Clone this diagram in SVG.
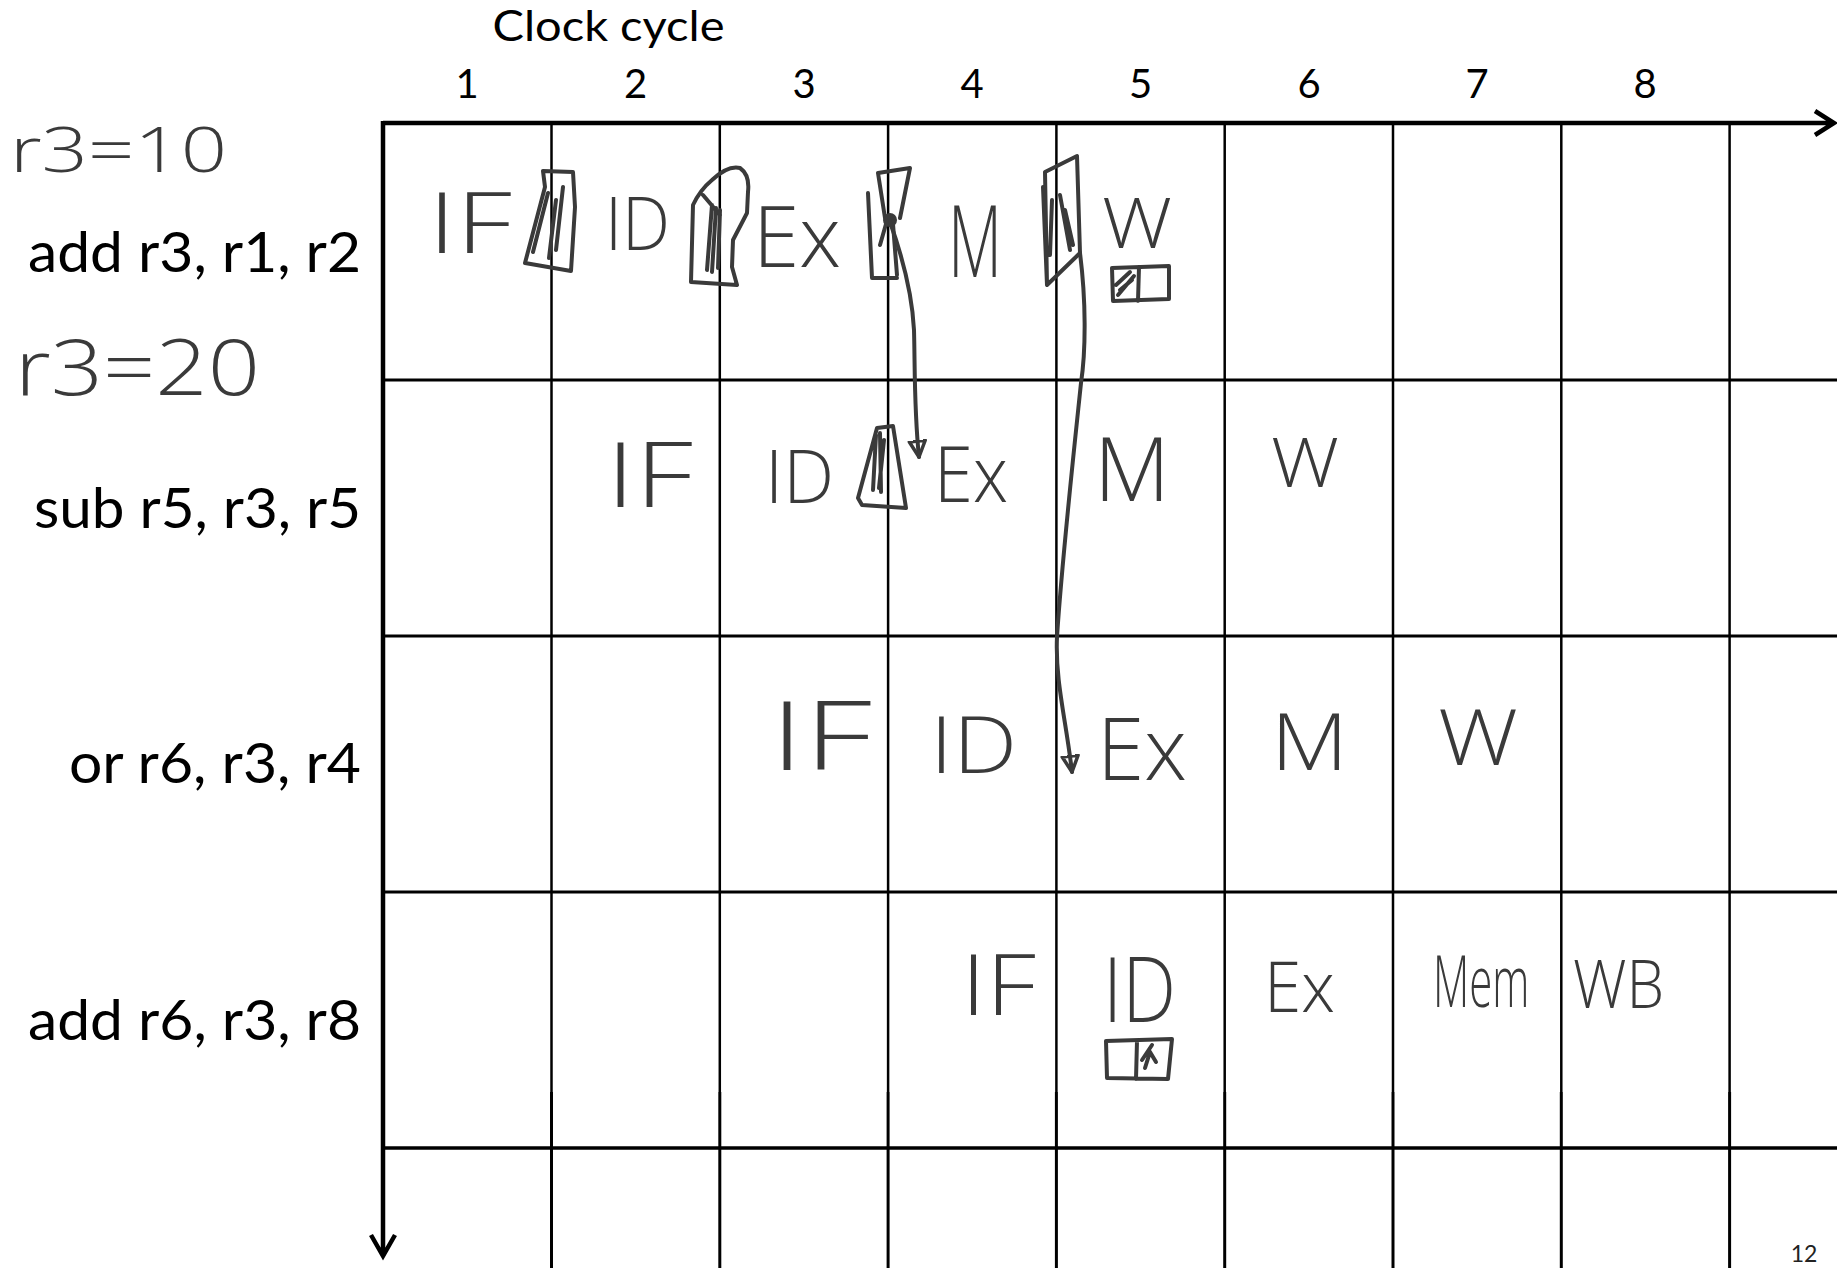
<svg xmlns="http://www.w3.org/2000/svg" width="1837" height="1268" viewBox="0 0 1837 1268">
<defs>
<style>
.print{font-family:Lato,"Liberation Sans",sans-serif;fill:#000}
.lbl{font-size:56px}
.num{font-size:40px;text-anchor:middle}
.hw{font-family:"Open Sans","Liberation Sans",sans-serif;font-weight:300;fill:#3a3a3a}
.ink{fill:none;stroke:#3a3a3a;stroke-width:4;stroke-linecap:round;stroke-linejoin:round}
.grid{stroke:#000;stroke-width:2.5}
.gridb{stroke:#000;stroke-width:3}
.axis{stroke:#000;stroke-width:4.5;fill:none}
</style>
<marker id="ah" markerUnits="userSpaceOnUse" viewBox="0 0 20 20" markerWidth="20" markerHeight="20" refX="17" refY="10" orient="auto">
<path d="M1,2 L17,10 L1,18 Z" fill="none" stroke="#3a3a3a" stroke-width="3.5" stroke-linejoin="round"/>
</marker>
</defs>
<rect x="0" y="0" width="1837" height="1268" fill="#fff"/>

<g id="grid">
<g class="grid">
<line x1="551.5" y1="123" x2="551.5" y2="1092"/>
<line x1="719.8" y1="123" x2="719.8" y2="1092"/>
<line x1="888.1" y1="123" x2="888.1" y2="1092"/>
<line x1="1056.4" y1="123" x2="1056.4" y2="1092"/>
<line x1="1224.7" y1="123" x2="1224.7" y2="1092"/>
<line x1="1393" y1="123" x2="1393" y2="1092"/>
<line x1="1561.3" y1="123" x2="1561.3" y2="1092"/>
<line x1="1729.6" y1="123" x2="1729.6" y2="1092"/>
</g>
<g class="gridb">
<line x1="551.5" y1="1092" x2="551.5" y2="1268"/>
<line x1="719.8" y1="1092" x2="719.8" y2="1268"/>
<line x1="888.1" y1="1092" x2="888.1" y2="1268"/>
<line x1="1056.4" y1="1092" x2="1056.4" y2="1268"/>
<line x1="1224.7" y1="1092" x2="1224.7" y2="1268"/>
<line x1="1393" y1="1092" x2="1393" y2="1268"/>
<line x1="1561.3" y1="1092" x2="1561.3" y2="1268"/>
<line x1="1729.6" y1="1092" x2="1729.6" y2="1268"/>
<line x1="383" y1="380" x2="1837" y2="380"/>
<line x1="383" y1="636" x2="1837" y2="636"/>
<line x1="383" y1="892" x2="1837" y2="892"/>
<line x1="383" y1="1148" x2="1837" y2="1148" stroke-width="3.5"/>
</g>
<path class="axis" d="M383,123 H1833 M1815,111 L1834,123 L1815,135"/>
<path class="axis" d="M383,121 V1255 M371,1235 L383,1256 L395,1235"/>
</g>

<g id="axis-labels" class="print">
<text x="492.5" y="41" font-size="42" textLength="232" lengthAdjust="spacingAndGlyphs">Clock cycle</text>
<text class="num" x="467" y="98">1</text>
<text class="num" x="635.6" y="98">2</text>
<text class="num" x="804" y="98">3</text>
<text class="num" x="972" y="98">4</text>
<text class="num" x="1140.5" y="98">5</text>
<text class="num" x="1309" y="98">6</text>
<text class="num" x="1477" y="98">7</text>
<text class="num" x="1645" y="98">8</text>
<text x="1804" y="1262" font-size="23" text-anchor="middle" fill="#222">12</text>
</g>

<g id="notes" class="hw">
<text x="10" y="172" font-size="63" textLength="217" lengthAdjust="spacingAndGlyphs">r3=10</text>
<text x="15" y="395" font-size="77" textLength="245" lengthAdjust="spacingAndGlyphs">r3=20</text>
</g>

<g id="instr1">
<text class="print lbl" x="361" y="272" text-anchor="end" textLength="333" lengthAdjust="spacingAndGlyphs">add r3, r1, r2</text>
<g class="hw">
<text x="428" y="253" font-size="85" textLength="84" lengthAdjust="spacingAndGlyphs">IF</text>
<text x="605" y="250" font-size="73" textLength="65" lengthAdjust="spacingAndGlyphs">ID</text>
<text x="753" y="267" font-size="84" textLength="88" lengthAdjust="spacingAndGlyphs">Ex</text>
<text x="948" y="277" font-size="100" textLength="54" lengthAdjust="spacingAndGlyphs">M</text>
<text x="1102" y="248" font-size="70" textLength="70" lengthAdjust="spacingAndGlyphs">W</text>
</g>
</g>

<g id="instr2">
<text class="print lbl" x="361" y="528" text-anchor="end" textLength="327" lengthAdjust="spacingAndGlyphs">sub r5, r3, r5</text>
<g class="hw">
<text x="606" y="507" font-size="91" textLength="87" lengthAdjust="spacingAndGlyphs">IF</text>
<text x="765" y="503" font-size="74" textLength="69" lengthAdjust="spacingAndGlyphs">ID</text>
<text x="934" y="502" font-size="77" textLength="74" lengthAdjust="spacingAndGlyphs">Ex</text>
<text x="1094" y="501" font-size="88" textLength="76" lengthAdjust="spacingAndGlyphs">M</text>
<text x="1271" y="487" font-size="69" textLength="68" lengthAdjust="spacingAndGlyphs">W</text>
</g>
</g>

<g id="instr3">
<text class="print lbl" x="361" y="783" text-anchor="end" textLength="292" lengthAdjust="spacingAndGlyphs">or r6, r3, r4</text>
<g class="hw">
<text x="770" y="770" font-size="95" textLength="102" lengthAdjust="spacingAndGlyphs">IF</text>
<text x="930" y="773" font-size="80" textLength="87" lengthAdjust="spacingAndGlyphs">ID</text>
<text x="1097" y="780" font-size="87" textLength="90" lengthAdjust="spacingAndGlyphs">Ex</text>
<text x="1271" y="770" font-size="80" textLength="77" lengthAdjust="spacingAndGlyphs">M</text>
<text x="1438" y="765" font-size="77" textLength="80" lengthAdjust="spacingAndGlyphs">W</text>
</g>
</g>

<g id="instr4">
<text class="print lbl" x="361" y="1040" text-anchor="end" textLength="333" lengthAdjust="spacingAndGlyphs">add r6, r3, r8</text>
<g class="hw">
<text x="961" y="1015" font-size="84" textLength="75" lengthAdjust="spacingAndGlyphs">IF</text>
<text x="1103" y="1022" font-size="90" textLength="73" lengthAdjust="spacingAndGlyphs">ID</text>
<text x="1264" y="1012" font-size="70" textLength="71" lengthAdjust="spacingAndGlyphs">Ex</text>
<text transform="translate(1433,1007) scale(1,1.7)" font-size="42">Mem</text>
<text x="1573" y="1008" font-size="67" textLength="91" lengthAdjust="spacingAndGlyphs">WB</text>
</g>
</g>

<g id="pipeline-registers" class="ink">
<path d="M543,171 L573,172 L575,207 L571,271 L525,263 L545,187 Z M548,193 L533,252 M563,187 L556,250 M556,200 L549,258"/>
<path d="M691,282 L693,205 Q700,190 712,180 Q728,165 740,168 Q750,175 748,192 L747,213 L733,240 L732,267 L737,285 Z M703,195 L720,215 M712,205 L707,270 M720,210 L718,268 M716,208 L712,272"/>
<path d="M868,193 L872,278 L897,278 M878,173 L910,168 L900,218 M878,173 L885,218 M886,224 L880,245 M893,224 L897,275"/>
<circle cx="890" cy="220" r="7" fill="#3a3a3a" stroke="none"/>
<path d="M1045,172 L1077,156 L1080,253 L1047,285 Z M1043,187 L1047,285 M1052,200 L1050,255 M1060,195 L1070,250 M1065,210 L1073,245"/>
<path d="M1112,268 L1169,266 L1169,299 L1113,301 Z M1139,267 L1138,301 M1116,285 L1130,272 M1118,295 L1134,276 M1120,290 L1132,280"/>
<path d="M877,428 L893,426 L906,508 L862,505 L858,498 Z M876,435 L873,490 M880,433 L881,492 M884,440 L879,488"/>
<path d="M1106,1041 L1172,1039 L1168,1079 L1107,1078 Z M1137,1041 L1136,1079 M1142,1060 L1152,1045 M1145,1068 L1150,1052 L1156,1062"/>
</g>

<g id="connectors" class="ink">
<path d="M890,222 C900,250 912,290 914,330 C915,365 914,410 919,457" marker-end="url(#ah)"/>
<path d="M1080,253 C1086,300 1086,350 1081,383 C1074,450 1062,560 1057,637 C1055,680 1066,720 1072,772" marker-end="url(#ah)"/>
</g>
</svg>
